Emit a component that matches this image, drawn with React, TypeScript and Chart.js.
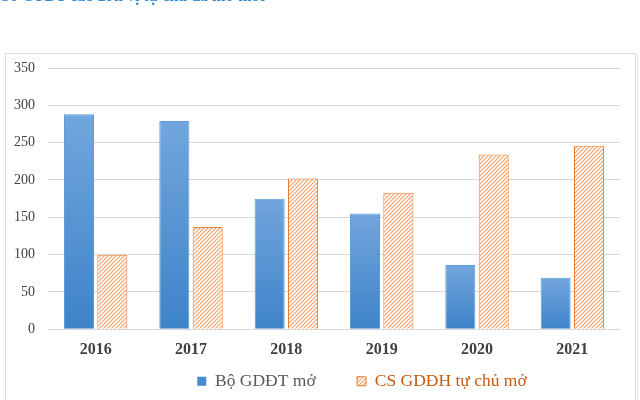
import React, { useEffect, useRef } from "react";
import { Chart, registerables } from "chart.js";

Chart.register(...registerables);

const categories = ["2016", "2017", "2018", "2019", "2020", "2021"];
const boSeries = [288, 279, 175, 155, 86, 69];
const csSeries = [100, 137, 202, 183, 234, 246];
const yTicks = [0, 50, 100, 150, 200, 250, 300, 350];
const seriesNames = ["Bộ GDĐT mở", "CS GDĐH tự chủ mở"];
const titleText = "Số CTĐT các đơn vị tự chủ đã mở mới";

function makeHatch(): CanvasPattern | string {
  const c = document.createElement("canvas");
  c.width = 4;
  c.height = 4;
  const g = c.getContext("2d");
  if (!g) return "#fff";
  g.fillStyle = "#ffffff";
  g.fillRect(0, 0, 4, 4);
  g.strokeStyle = "#F2A06A";
  g.lineWidth = 1.1;
  g.beginPath();
  g.moveTo(-1, 5);
  g.lineTo(5, -1);
  g.moveTo(-1, 1);
  g.lineTo(1, -1);
  g.moveTo(3, 5);
  g.lineTo(5, 3);
  g.stroke();
  const p = g.createPattern(c, "repeat");
  return p || "#fff";
}

export default function App() {
  const ref = useRef<HTMLCanvasElement>(null);

  useEffect(() => {
    document.body.style.margin = "0";
    if (!ref.current) return;
    const hatch = makeHatch();

    const blueFill = (ctx: any) => {
      const chart = ctx.chart;
      const ys = chart.scales && chart.scales.y;
      if (!ys || ctx.type !== "data") return "#4F8FD2";
      const v = ctx.raw as number;
      const top = ys.getPixelForValue(v);
      const bottom = ys.getPixelForValue(0);
      if (!isFinite(top) || !isFinite(bottom) || top === bottom) return "#4F8FD2";
      const g = chart.ctx.createLinearGradient(0, top, 0, bottom);
      g.addColorStop(0, "#72A6DD");
      g.addColorStop(1, "#3E83C9");
      return g;
    };

    const boxBorder = {
      id: "boxBorder",
      beforeDraw(chart: any) {
        const c = chart.ctx;
        c.save();
        c.fillStyle = "#ffffff";
        c.fillRect(0, 0, chart.width, chart.height);
        c.strokeStyle = "#DCDCDC";
        c.lineWidth = 1;
        c.strokeRect(5.5, 53.5, 630, 400);
        c.strokeStyle = "#E6E6E6";
        c.beginPath();
        c.moveTo(637.5, 54);
        c.lineTo(637.5, 400);
        c.stroke();
        c.restore();
      },
    };

    const legendShift = {
      id: "legendShift",
      afterLayout(chart: any) {
        const lg = chart.legend;
        if (!lg) return;
        const dx = 52;
        lg.left += dx;
        lg.right += dx;
        if (lg.legendHitBoxes) lg.legendHitBoxes.forEach((b: any) => (b.left += dx));
      },
    };

    const chart = new Chart(ref.current, {
      type: "bar",
      data: {
        labels: categories,
        datasets: [
          {
            label: seriesNames[0],
            data: boSeries,
            backgroundColor: blueFill,
            borderColor: "#5B9BD5",
            borderWidth: 1,
            categoryPercentage: 0.7,
            barPercentage: 0.9,
          },
          {
            label: seriesNames[1],
            data: csSeries,
            backgroundColor: hatch as any,
            borderColor: "#ED7D31",
            borderWidth: 1,
            categoryPercentage: 0.7,
            barPercentage: 0.9,
          },
        ],
      },
      options: {
        animation: false,
        responsive: false,
        maintainAspectRatio: false,
        layout: { padding: { left: 0, right: 20, top: 68, bottom: 0 } },
        scales: {
          x: {
            grid: { display: false, drawTicks: false },
            border: { display: true, color: "#D9D9D9", width: 1 },
            ticks: {
              padding: 11,
              color: "#404040",
              font: { family: "'Liberation Serif', serif", size: 16, weight: "bold" },
            },
          },
          y: {
            min: 0,
            max: 350,
            afterBuildTicks: (scale: any) => {
              scale.ticks = yTicks.map((v) => ({ value: v }));
            },
            afterFit: (scale: any) => {
              scale.width = 48;
            },
            grid: { color: "#D9D9D9", lineWidth: 1, drawTicks: false },
            border: { display: false },
            ticks: {
              padding: 13,
              color: "#404040",
              font: { family: "'Liberation Serif', serif", size: 14 },
            },
          },
        },
        plugins: {
          tooltip: { enabled: false },
          legend: {
            position: "bottom",
            labels: {
              boxWidth: 9,
              boxHeight: 9,
              padding: 2,
              font: { family: "'Liberation Serif', serif", size: 17.5 },
              generateLabels: () => [
                {
                  text: seriesNames[0] + "         ",
                  fillStyle: "#4A8BD0",
                  strokeStyle: "#4A8BD0",
                  lineWidth: 0,
                  fontColor: "#595959",
                  datasetIndex: 0,
                  hidden: false,
                } as any,
                {
                  text: seriesNames[1],
                  fillStyle: hatch as any,
                  strokeStyle: "#ED7D31",
                  lineWidth: 1,
                  fontColor: "#C55A11",
                  datasetIndex: 1,
                  hidden: false,
                } as any,
              ],
            },
          },
        },
      },
      plugins: [boxBorder, legendShift],
    });
    return () => chart.destroy();
  }, []);

  return (
    <div style={{ position: "relative", width: 640, height: 400, overflow: "hidden", background: "#fff" }}>
      <canvas ref={ref} width={640} height={400} style={{ position: "absolute", left: 0, top: 0, width: 640, height: 400 }} />
      <div
        style={{
          position: "absolute",
          left: 1,
          top: -12,
          whiteSpace: "nowrap",
          color: "#2E86D1",
          fontFamily: "'Liberation Serif', serif",
          fontWeight: "bold",
          fontSize: 16,
          lineHeight: "16px",
        }}
      >
        {titleText}
      </div>
    </div>
  );
}
